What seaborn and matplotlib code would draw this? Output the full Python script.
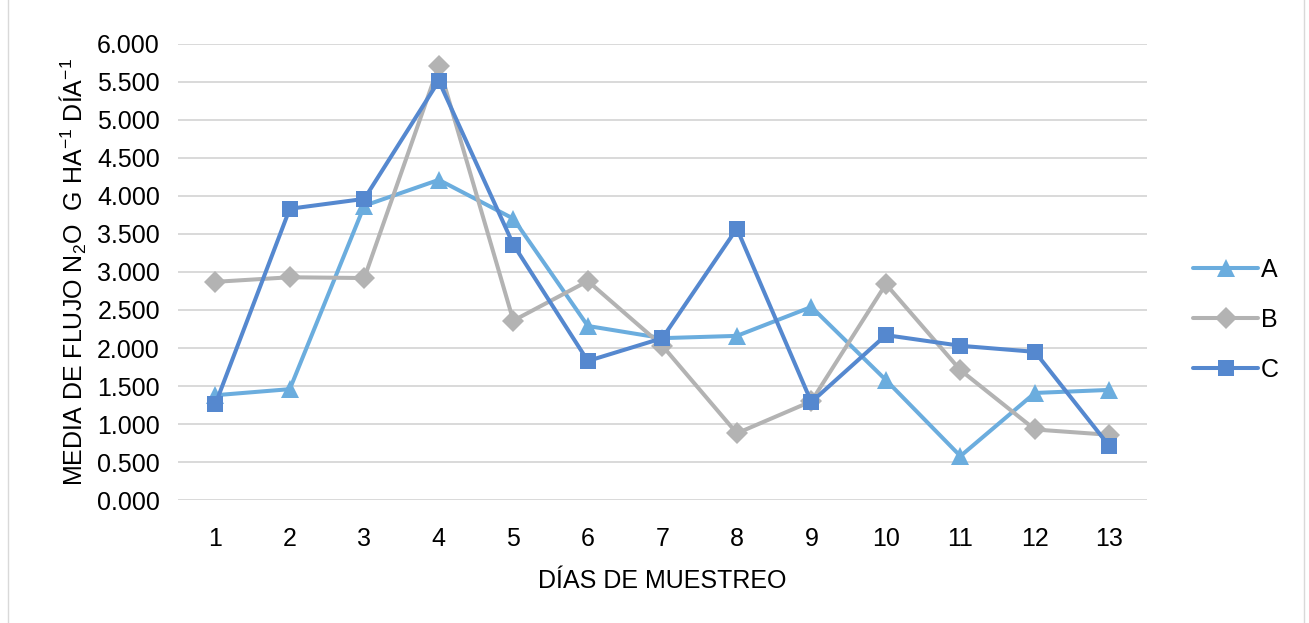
import pandas as pd
import matplotlib.pyplot as plt
import seaborn as sns
from matplotlib.patches import Rectangle

# ------------------------------------------------------------
# Data
# ------------------------------------------------------------
dias = list(range(1, 14))
serie_a = [1.38, 1.46, 3.87, 4.21, 3.70, 2.29, 2.13, 2.16, 2.54, 1.58, 0.58, 1.41, 1.45]
serie_b = [2.87, 2.93, 2.92, 5.71, 2.36, 2.88, 2.03, 0.88, 1.30, 2.84, 1.71, 0.93, 0.86]
serie_c = [1.26, 3.83, 3.96, 5.51, 3.36, 1.83, 2.13, 3.57, 1.29, 2.17, 2.03, 1.95, 0.71]

df = pd.DataFrame({'dia': dias * 3,
                   'flujo': serie_a + serie_b + serie_c,
                   'trat': ['A'] * 13 + ['B'] * 13 + ['C'] * 13})

colores = {'A': '#6badde', 'B': '#b3b3b3', 'C': '#5588cf'}
marcas = {'A': '^', 'B': 'D', 'C': 's'}

# ------------------------------------------------------------
# Plot
# ------------------------------------------------------------
sns.set_style('white')
plt.rcParams['font.family'] = ['Liberation Sans', 'DejaVu Sans']
plt.rcParams['mathtext.fontset'] = 'custom'
plt.rcParams['mathtext.rm'] = 'Liberation Sans'
plt.rcParams['mathtext.it'] = 'Liberation Sans'
plt.rcParams['mathtext.default'] = 'regular'
plt.rcParams['text.color'] = 'black'
plt.rcParams['axes.labelcolor'] = 'black'

fig = plt.figure(figsize=(13.09, 6.23), dpi=100)
ax = fig.add_axes([0.136, 0.197, 0.740, 0.733])

sns.lineplot(data=df, x='dia', y='flujo', hue='trat', style='trat',
             palette=colores, markers=marcas, dashes=False,
             linewidth=2.9, markersize=11, markeredgewidth=0, ax=ax)
# triangles look a bit bigger in the original
ax.lines[0].set_markersize(13)

ax.set_xlim(0.5, 13.5)
ax.set_ylim(0, 6)
ax.set_xticks(dias)
ax.set_yticks([i * 0.5 for i in range(13)])
ax.set_yticklabels([f'{i * 0.5:.3f}' for i in range(13)])
ax.tick_params(labelsize=18, length=0, labelcolor='black')
ax.tick_params(axis='x', pad=19)
ax.tick_params(axis='y', pad=13)
ax.grid(axis='y', color='#d9d9d9', linewidth=1.4)
ax.set_axisbelow(True)
for s in ax.spines.values():
    s.set_visible(False)

ax.set_xlabel('DÍAS DE MUESTREO', fontsize=18, labelpad=13)
ax.set_ylabel('MEDIA DE FLUJO N$_2$O  G HA$^{-1}$ DÍA$^{-1}$', fontsize=18, labelpad=6)

leg = ax.legend(loc='center left', bbox_to_anchor=(1.025, 0.395), frameon=False,
                fontsize=18, handlelength=2.6, labelspacing=1.05, handletextpad=0.1)
leg.legend_handles[0].set_markersize(13)

# chart border
fig.patches.append(Rectangle((0.006, -0.01), 0.99, 1.02, transform=fig.transFigure,
                             fill=False, edgecolor='#d9d9d9', linewidth=1))

fig.savefig('out.png', dpi=100)
